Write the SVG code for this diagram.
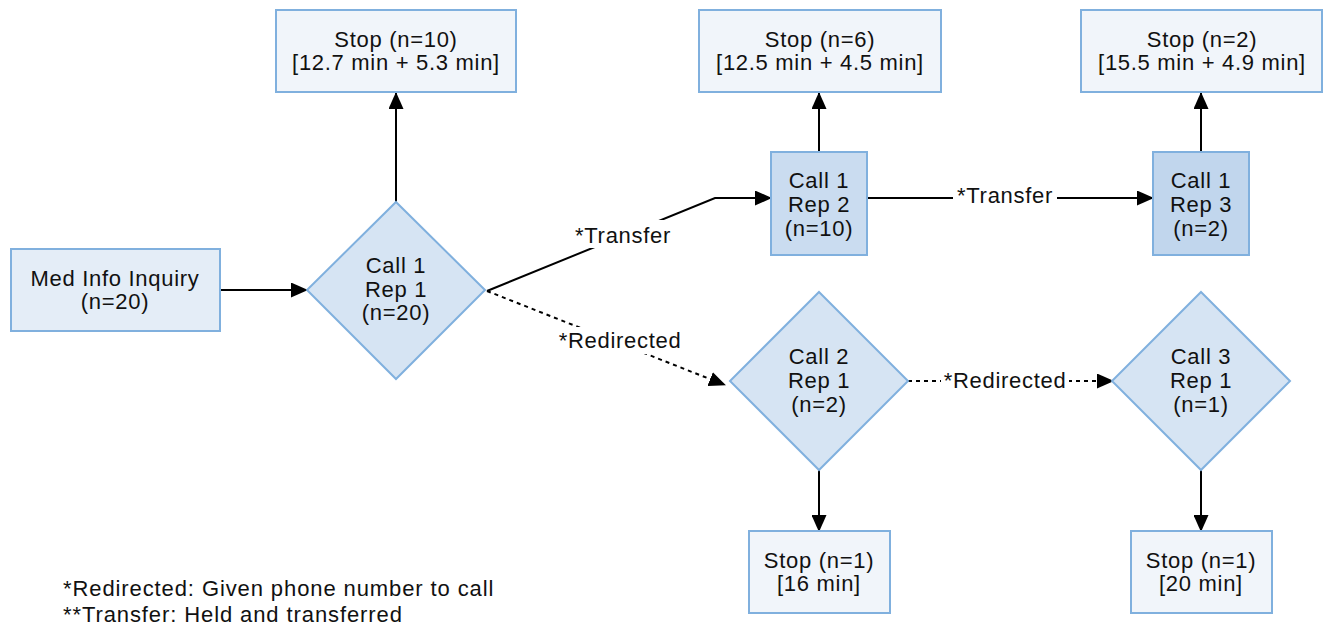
<svg xmlns="http://www.w3.org/2000/svg" width="1323" height="629" viewBox="0 0 1323 629">
  <style>
    text { font-family: "Liberation Sans", Arial, sans-serif; font-size: 22px; letter-spacing: 0.7px; fill: #111; text-anchor: middle; }
    .box { stroke: #80b0de; stroke-width: 2; }
    .stop { fill: #f1f5fa; }
    .start { fill: #e4edf7; }
    .dia { fill: #d6e4f3; }
    .rep2 { fill: #cadcf0; }
    .rep3 { fill: #c1d6ed; }
    .edge { stroke: #000; stroke-width: 2; fill: none; }
    .dot { stroke-dasharray: 4 4; }
    .lbg { fill: #fff; }
    .note { text-anchor: start; letter-spacing: 0.9px; }
  </style>
  <defs>
    <marker id="arrow" markerWidth="17" markerHeight="15" refX="16" refY="7.5" orient="auto" markerUnits="userSpaceOnUse">
      <path d="M0,0 L17,7.5 L0,15 Z" fill="#000"/>
    </marker>
  </defs>

  <rect width="1323" height="629" fill="#fff"/>

  <!-- connectors -->
  <g id="connectors">
    <line class="edge" x1="220" y1="290" x2="307" y2="290" marker-end="url(#arrow)"/>
    <line class="edge" x1="396" y1="202" x2="396" y2="93" marker-end="url(#arrow)"/>
    <polyline class="edge" points="487,291 715,198 771,198" marker-end="url(#arrow)"/>
    <line class="edge" x1="819" y1="152" x2="819" y2="93" marker-end="url(#arrow)"/>
    <line class="edge" x1="867" y1="198" x2="1153" y2="198" marker-end="url(#arrow)"/>
    <line class="edge" x1="1201" y1="152" x2="1201" y2="93" marker-end="url(#arrow)"/>
    <line class="edge dot" x1="487" y1="291" x2="725" y2="385" marker-end="url(#arrow)"/>
    <line class="edge dot" x1="908" y1="381" x2="1113" y2="381" marker-end="url(#arrow)"/>
    <line class="edge" x1="819" y1="470" x2="819" y2="531" marker-end="url(#arrow)"/>
    <line class="edge" x1="1201" y1="470" x2="1201" y2="531" marker-end="url(#arrow)"/>

    <rect class="lbg" x="576" y="220" width="96" height="28"/>
    <text x="623" y="243">*Transfer</text>
    <rect class="lbg" x="555" y="327" width="130" height="27"/>
    <text x="620" y="348">*Redirected</text>
    <rect class="lbg" x="953" y="182" width="104" height="28"/>
    <text x="1005" y="203">*Transfer</text>
    <rect class="lbg" x="941" y="368" width="128" height="26"/>
    <text x="1005" y="388">*Redirected</text>
  </g>

  <!-- nodes -->
  <g id="med-info">
    <rect class="box start" x="11" y="249" width="209" height="82"/>
    <text x="115" y="286">Med Info Inquiry</text>
    <text x="115" y="309">(n=20)</text>
  </g>

  <g id="call1-rep1">
    <polygon class="box dia" points="396,202 485,290 396,379 307,290"/>
    <text x="396" y="273">Call 1</text>
    <text x="396" y="297">Rep 1</text>
    <text x="396" y="320">(n=20)</text>
  </g>

  <g id="stop-10">
    <rect class="box stop" x="276" y="10" width="240" height="82"/>
    <text x="396" y="47">Stop (n=10)</text>
    <text x="396" y="70">[12.7 min + 5.3 min]</text>
  </g>

  <g id="call1-rep2">
    <rect class="box rep2" x="771" y="152" width="96" height="103"/>
    <text x="819" y="188">Call 1</text>
    <text x="819" y="212">Rep 2</text>
    <text x="819" y="236">(n=10)</text>
  </g>

  <g id="stop-6">
    <rect class="box stop" x="699" y="10" width="242" height="82"/>
    <text x="820" y="47">Stop (n=6)</text>
    <text x="820" y="70">[12.5 min + 4.5 min]</text>
  </g>

  <g id="call1-rep3">
    <rect class="box rep3" x="1153" y="152" width="96" height="103"/>
    <text x="1201" y="188">Call 1</text>
    <text x="1201" y="212">Rep 3</text>
    <text x="1201" y="236">(n=2)</text>
  </g>

  <g id="stop-2">
    <rect class="box stop" x="1081" y="10" width="241" height="82"/>
    <text x="1202" y="47">Stop (n=2)</text>
    <text x="1202" y="70">[15.5 min + 4.9 min]</text>
  </g>

  <g id="call2-rep1">
    <polygon class="box dia" points="819,292 908,381 819,470 730,381"/>
    <text x="819" y="364">Call 2</text>
    <text x="819" y="388">Rep 1</text>
    <text x="819" y="412">(n=2)</text>
  </g>

  <g id="call3-rep1">
    <polygon class="box dia" points="1201,292 1290,381 1201,470 1112,381"/>
    <text x="1201" y="364">Call 3</text>
    <text x="1201" y="388">Rep 1</text>
    <text x="1201" y="412">(n=1)</text>
  </g>

  <g id="stop-1a">
    <rect class="box stop" x="749" y="531" width="141" height="82"/>
    <text x="819" y="568">Stop (n=1)</text>
    <text x="819" y="591">[16 min]</text>
  </g>

  <g id="stop-1b">
    <rect class="box stop" x="1131" y="531" width="141" height="82"/>
    <text x="1201" y="568">Stop (n=1)</text>
    <text x="1201" y="591">[20 min]</text>
  </g>

  <!-- footnotes -->
  <g id="legend">
    <text class="note" x="63" y="596">*Redirected: Given phone number to call</text>
    <text class="note" x="63" y="622">**Transfer: Held and transferred</text>
  </g>
</svg>
